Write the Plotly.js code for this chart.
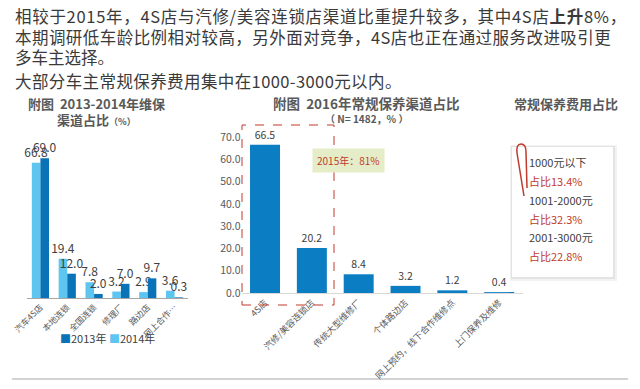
<!DOCTYPE html>
<html><head><meta charset="utf-8">
<script src="https://cdn.plot.ly/plotly-3.0.1.min.js"></script>
<style>html,body{margin:0;padding:0;background:#fff}</style>
</head><body><div id="chart" style="width:640px;height:389px"></div>
<script>
// Left chart: 2013-2014 channel share
const leftCats = ["汽车4S店", "本地连锁", "全国连锁", "修理厂", "路边店", "网上合作…"];
const vals2014 = [66.8, 19.4, 7.8, 3.2, 2.9, 3.6];
const vals2013 = [69.0, 12.0, 2.0, 7.0, 9.7, 0.3];
const seriesNames = ["2013年", "2014年"];
// Middle chart: 2016 channel share
const midCats = ["4S店", "汽修/美容连锁店", "传统大型维修厂", "个体路边店", "网上预约，线下合作维修点", "上门保养及维修"];
const midVals = [66.5, 20.2, 8.4, 3.2, 1.2, 0.4];
const midTicks = [0, 10, 20, 30, 40, 50, 60, 70];
// Right box: cost share
const costRanges = ["1000元以下", "1001-2000元", "2001-3000元"];
const costShares = ["13.4%", "32.3%", "22.8%"];

const FONT = "Noto Sans CJK SC, sans-serif";
const W = 640, H = 389;
const px = x => x / W, py = y => 1 - y / H;
const DARK = "#0a72b6", LIGHT = "#5ec4f0";

const traces = [
  {type: "bar", x: leftCats, y: vals2014, name: seriesNames[1], xaxis: "x", yaxis: "y",
   marker: {color: LIGHT}, text: vals2014.map(v => v.toFixed(1)), textposition: "outside",
   constraintext: "none", cliponaxis: false, textfont: {size: 12, color: "#404040", family: FONT}},
  {type: "bar", x: leftCats, y: vals2013, name: seriesNames[0], xaxis: "x", yaxis: "y",
   marker: {color: DARK}, text: vals2013.map(v => v.toFixed(1)), textposition: "outside",
   constraintext: "none", cliponaxis: false, textfont: {size: 12, color: "#404040", family: FONT}},
  {type: "bar", x: midCats, y: midVals, name: "2016", xaxis: "x2", yaxis: "y2",
   marker: {color: "#0b7dc2"}, text: midVals.map(v => v.toFixed(1)), textposition: "outside",
   constraintext: "none", cliponaxis: false, textfont: {size: 10.5, color: "#404040", family: FONT}}
];

const annotations = [];
function txt(x, y, text, size, color, opts) {
  annotations.push(Object.assign({xref: "paper", yref: "paper", x: px(x), y: py(y), text: text,
    showarrow: false, xanchor: "left", yanchor: "middle",
    font: {family: FONT, size: size, color: color}}, opts || {}));
}
txt(13, 16, "<span style='letter-spacing:0.7px'>相较于2015年，4S店与汽修/美容连锁店渠道比重提升较多，其中4S店<b>上升</b>8%，</span>", 16.5, "#3a3a3a");
txt(13, 37, "<span style='letter-spacing:0.45px'>本期调研低车龄比例相对较高，另外面对竞争，4S店也正在通过服务改进吸引更</span>", 16.5, "#3a3a3a");
txt(13, 57, "多车主选择。", 16.5, "#3a3a3a");
txt(13, 81, "<span style='letter-spacing:0.4px'>大部分车主常规保养费用集中在1000-3000元以内。</span>", 16.5, "#3a3a3a");

txt(96, 103, "<b>附图  2013-2014年维保</b>", 13, "#595959", {xanchor: "center"});
txt(96, 119, "<b>渠道占比</b><span style='font-size:9px'><b>（%）</b></span>", 13, "#595959", {xanchor: "center"});
txt(366, 103, "<b>附图  2016年常规保养渠道占比</b>", 13.5, "#595959", {xanchor: "center"});
txt(366, 118, "<b>（ N= 1482，% ）</b>", 10, "#595959", {xanchor: "center"});
txt(566, 103, "<b>常规保养费用占比</b>", 13, "#595959", {xanchor: "center"});

// legend of left chart
txt(58, 338, "<span style='color:" + DARK + "'>■</span>" + seriesNames[0] +
  " <span style='color:" + LIGHT + "'>■</span>" + seriesNames[1], 11, "#404040");

annotations.push({xref: "paper", yref: "paper", x: px(348), y: py(160), text: "2015年：81%",
  showarrow: false, xanchor: "center", yanchor: "middle", bgcolor: "#e4edc8", borderpad: 4,
  font: {family: FONT, size: 10, color: "#c0392b"}});

const boxLineY = [162, 181, 200, 219, 237, 256];
costRanges.forEach((r, i) => {
  txt(527, boxLineY[2 * i], r, 11, "#404040");
  txt(527, boxLineY[2 * i + 1], "占比" + costShares[i], 11, "#c0392b");
});

const shapes = [
  // dashed highlight box
  {type: "rect", xref: "paper", yref: "paper", x0: px(242), x1: px(334), y0: py(305), y1: py(125),
   line: {color: "#c0392b", width: 1, dash: "dash"}, layer: "above"},
  // box shadow
  {type: "rect", xref: "paper", yref: "paper", x0: px(510), x1: px(617), y0: py(281), y1: py(145),
   fillcolor: "rgba(0,0,0,0.05)", line: {width: 0}, layer: "below"},
  {type: "rect", xref: "paper", yref: "paper", x0: px(511), x1: px(615), y0: py(279), y1: py(146),
   fillcolor: "rgba(0,0,0,0.06)", line: {width: 0}, layer: "below"},
  {type: "rect", xref: "paper", yref: "paper", x0: px(512), x1: px(613), y0: py(277), y1: py(147),
   fillcolor: "#ffffff", line: {width: 0}, layer: "below"},
  // paper clip
  {type: "path", xref: "x3", yref: "y3",
   path: "M 524 196 L 517 153 Q 516 144 521 144 Q 526 144 526 152 L 527 188",
   line: {color: "#c0392b", width: 1.5}, layer: "above"},
  // bottom rule
  {type: "line", xref: "paper", yref: "paper", x0: px(12), x1: px(628), y0: py(379), y1: py(379),
   line: {color: "#a6a6a6", width: 1}}
];

const tickFont = {family: FONT, size: 8.5, color: "#595959"};
const layout = {
  width: W, height: H, margin: {l: 0, r: 0, t: 0, b: 0},
  paper_bgcolor: "#fff", plot_bgcolor: "rgba(0,0,0,0)",
  font: {family: FONT},
  barmode: "group",
  bargap: 0.36, bargroupgap: 0,
  showlegend: false,
  xaxis: {domain: [px(27), px(188)], type: "category", tickangle: -45, tickfont: tickFont,
    showline: true, linecolor: "#a6a6a6", ticks: "", showgrid: false},
  yaxis: {domain: [py(298), py(136)], range: [0, 80], visible: false, showgrid: false},
  xaxis2: {domain: [px(241.6), px(522.6)], type: "category", tickangle: -45,
    tickfont: {family: FONT, size: 9, color: "#595959"},
    showline: true, linecolor: "#d9d9d9", ticks: "", showgrid: false, anchor: "y2"},
  yaxis2: {domain: [py(293), py(137)], range: [0, 70], tickvals: midTicks, ticktext: midTicks.map(v => v.toFixed(1)),
    tickfont: {family: FONT, size: 10.5, color: "#595959"}, showgrid: false, zeroline: false,
    showline: false, ticks: "", anchor: "x2"},
  xaxis3: {domain: [0, 1], range: [0, W], visible: false, anchor: "y3"},
  yaxis3: {domain: [0, 1], range: [H, 0], visible: false, anchor: "x3"},
  annotations: annotations,
  shapes: shapes
};
traces.push({type: "scatter", x: [], y: [], xaxis: "x3", yaxis: "y3", showlegend: false, hoverinfo: "skip"});
Plotly.newPlot("chart", traces, layout, {displayModeBar: false, staticPlot: true});
</script></body></html>
